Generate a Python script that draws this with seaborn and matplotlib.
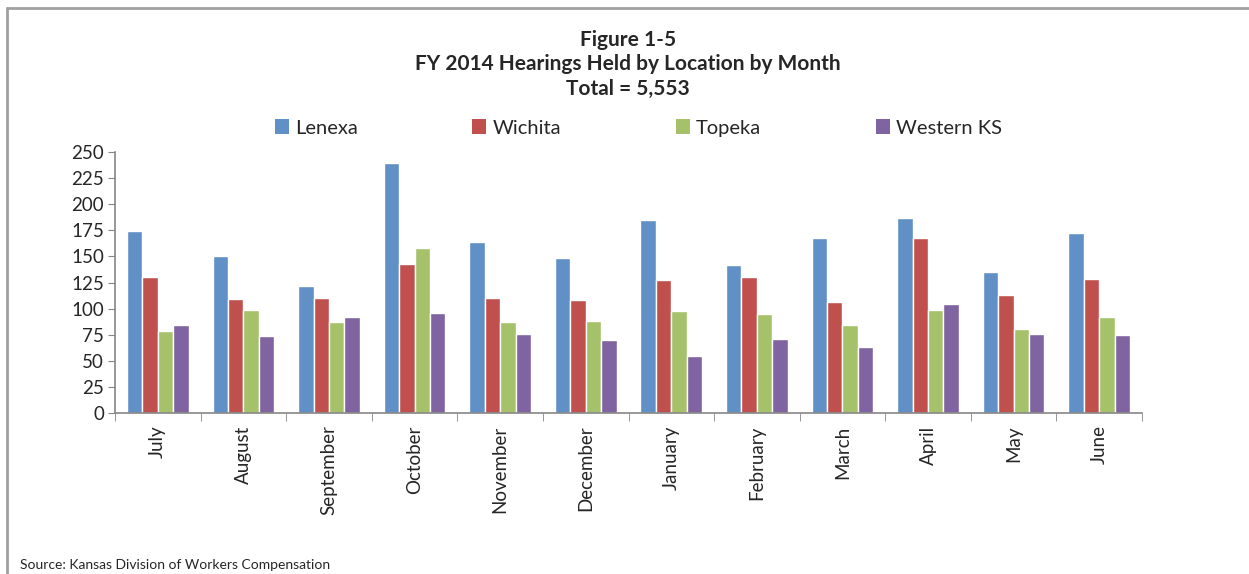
import numpy as np
import pandas as pd
import matplotlib
matplotlib.use("Agg")
import matplotlib.pyplot as plt
from matplotlib.patches import Patch
from matplotlib.lines import Line2D
import seaborn as sns

months = ["July", "August", "September", "October", "November", "December",
          "January", "February", "March", "April", "May", "June"]
locations = ["Lenexa", "Wichita", "Topeka", "Western KS"]
lenexa = [174, 150, 122, 239, 164, 148, 185, 142, 168, 187, 135, 172]
wichita = [130, 109, 110, 143, 110, 108, 127, 130, 106, 168, 113, 128]
topeka = [79, 99, 87, 158, 87, 88, 98, 95, 84, 99, 80, 92]
western = [84, 74, 92, 96, 76, 70, 55, 71, 63, 104, 76, 75]
colors = ["#6190C6", "#C0504D", "#A5C16A", "#8064A2"]

sns.set_style("white")
plt.rcParams["font.family"] = ["Lato", "DejaVu Sans"]

df = pd.DataFrame({
    "Month": months * 4,
    "Location": np.repeat(locations, 12),
    "Hearings": lenexa + wichita + topeka + western,
})

fig = plt.figure(figsize=(12.49, 5.74), dpi=100)
ax = fig.add_axes([115 / 1249, 1 - 413 / 574, (1142 - 115) / 1249, (413 - 152) / 574])

sns.barplot(data=df, x="Month", y="Hearings", hue="Location", order=months,
            hue_order=locations, palette=colors, saturation=1, width=0.72,
            legend=False, ax=ax)

ax.set_xlim(-0.5, 11.5)
ax.set_ylim(0, 250)
ax.set_yticks(np.arange(0, 251, 25))
ax.set_xlabel("")
ax.set_ylabel("")
ax.tick_params(axis="y", labelsize=13.5, length=5, color="#868686", direction="out", left=True, pad=3)
ax.tick_params(axis="x", which="major", labelsize=13.5, length=0, pad=9)
ax.set_xticks(np.arange(-0.5, 12, 1), minor=True)
ax.tick_params(axis="x", which="minor", length=6, color="#868686", direction="out", bottom=True)
for lbl in ax.get_xticklabels():
    lbl.set_rotation(90)
    lbl.set_va("top")
    lbl.set_ha("center")
for side in ["top", "right"]:
    ax.spines[side].set_visible(False)
for side in ["left", "bottom"]:
    ax.spines[side].set_color("#868686")
    ax.spines[side].set_linewidth(1.2)

fig.text(0.503, 1 - 40 / 574, "Figure 1-5", ha="center", va="center", fontsize=15, fontweight="bold")
fig.text(0.503, 1 - 64 / 574, "FY 2014 Hearings Held by Location by Month", ha="center", va="center",
         fontsize=15, fontweight="bold")
fig.text(0.503, 1 - 89 / 574, "Total = 5,553", ha="center", va="center", fontsize=15, fontweight="bold")

handles = [Patch(facecolor=c, edgecolor="none") for c in colors]
fig.legend(handles, locations, loc="center", bbox_to_anchor=(0.511, 1 - 128 / 574), ncol=4,
           frameon=False, fontsize=14.5, handlelength=0.7, handleheight=0.7, handletextpad=0.3,
           columnspacing=5.7)

fig.text(20 / 1249, 1 - 565 / 574, "Source: Kansas Division of Workers Compensation", ha="left",
         va="center", fontsize=10)

# chart border (top and left edges)
fig.add_artist(Line2D([7 / 1249, 1], [1 - 8 / 574, 1 - 8 / 574], transform=fig.transFigure,
                      color="#A0A0A0", lw=2))
fig.add_artist(Line2D([7 / 1249, 7 / 1249], [0, 1 - 8 / 574], transform=fig.transFigure,
                      color="#A0A0A0", lw=2))

fig.savefig("out.png", dpi=100)
